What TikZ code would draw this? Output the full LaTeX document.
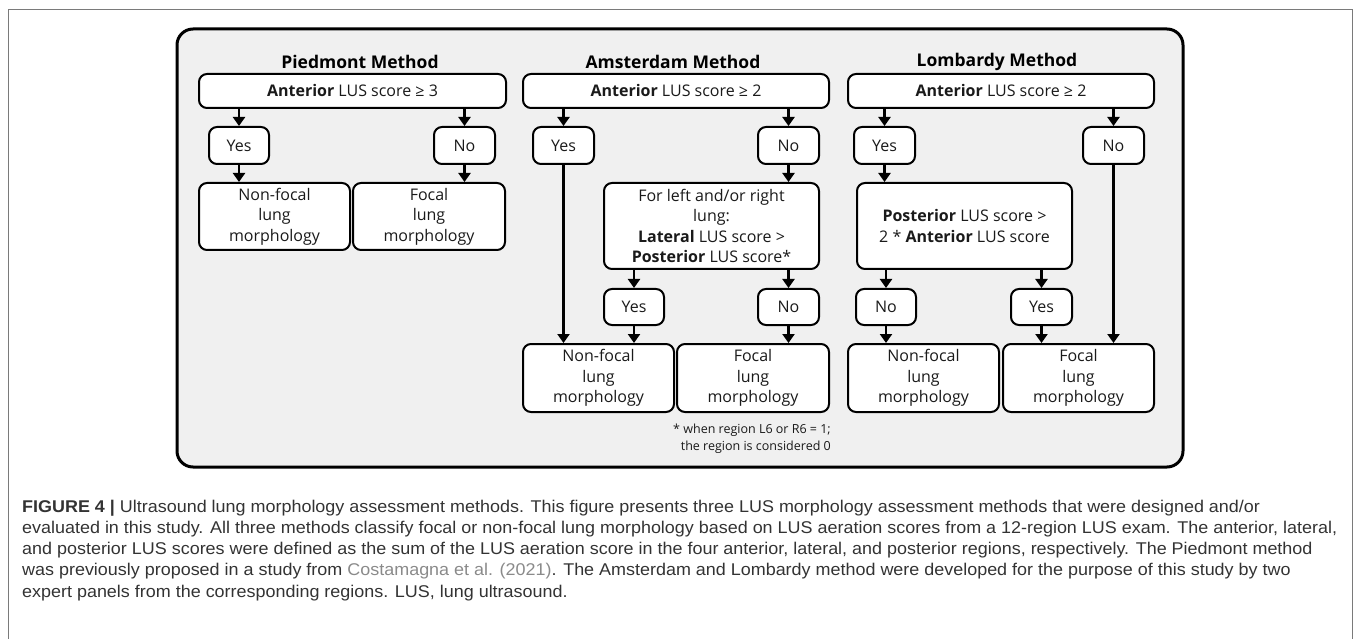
\documentclass[tikz,border=0pt]{standalone}
\usepackage{fontspec}
\usepackage{graphicx}
\setmainfont{Open Sans}
\newfontfamily\capfont[FakeStretch=0.85]{Liberation Sans}
\usetikzlibrary{arrows.meta,calc}
\definecolor{panelgray}{HTML}{F0F0F0}
\definecolor{captext}{HTML}{333333}
\definecolor{linkgray}{HTML}{8A8A8A}
\definecolor{framegray}{HTML}{7A7A7A}
\definecolor{ink}{HTML}{1A1A1A}
\newsavebox\capmeasure
\begin{document}
\sbox\capmeasure{\capfont\fontsize{17}{21}\selectfont evaluated in this study. All three methods classify focal or non-focal lung morphology based on LUS aeration scores from a 12-region LUS exam. The anterior, lateral,}%
\pgfmathsetmacro\capscale{1315/\the\wd\capmeasure}%
\begin{tikzpicture}[x=1pt,y=-1pt,
  box/.style={draw=black,line width=2pt,rounded corners=8pt,fill=white,inner sep=0pt,align=center,text=ink,font=\fontsize{16}{20.5}\selectfont},
  ttl/.style={font=\fontsize{17.5}{20}\selectfont\bfseries,text=black},
  arr/.style={line width=2.2pt,-{Triangle[length=9pt,width=12pt]}},
  capline/.style={anchor=base west,inner sep=0pt,text=captext,font=\capfont\fontsize{17}{21}\selectfont},
  foot/.style={anchor=base east,inner sep=0pt,text=ink,font=\fontsize{12.5}{15}\selectfont},
]
\useasboundingbox (0,0) rectangle (1358,639);
% outer frame
\draw[framegray,line width=1pt] (8,650) -- (8,10) -- (1352,10) -- (1352,650);
% panel
\draw[line width=3pt,rounded corners=16pt,fill=panelgray] (177,29) rectangle (1183,467);

% titles
\node[ttl] (tP) at (360,62) {Piedmont Method};
\node[ttl] (tA) at (673,62) {Amsterdam Method};
\node[ttl] (tL) at (997,62) {Lombardy Method};

% top boxes
\node[box,minimum width=307pt,minimum height=34pt] (pA) at (352.5,91) {\textbf{Anterior} LUS score ≥ 3};
\node[box,minimum width=306pt,minimum height=34pt] (aA) at (676,91) {\textbf{Anterior} LUS score ≥ 2};
\node[box,minimum width=306pt,minimum height=34pt] (lA) at (1001,91) {\textbf{Anterior} LUS score ≥ 2};

% yes/no row 1
\node[box,minimum width=60pt,minimum height=37pt] (pY) at (239,145.5) {Yes};
\node[box,minimum width=61pt,minimum height=37pt] (pN) at (464.5,145.5) {No};
\node[box,minimum width=61pt,minimum height=37pt] (aY) at (563.5,145.5) {Yes};
\node[box,minimum width=61pt,minimum height=37pt] (aN) at (788.5,145.5) {No};
\node[box,minimum width=61pt,minimum height=37pt] (lY) at (884.5,145.5) {Yes};
\node[box,minimum width=61pt,minimum height=37pt] (lN) at (1113.5,145.5) {No};

% piedmont results
\node[box,minimum width=151pt,minimum height=67pt] (pR1) at (274.5,216.5) {Non-focal\\lung\\morphology};
\node[box,minimum width=152pt,minimum height=67pt] (pR2) at (429,216.5) {Focal\\lung\\morphology};

% condition boxes
\node[box,minimum width=215pt,minimum height=86pt] (aC) at (711.5,226) {For left and/or right\\lung:\\\textbf{Lateral} LUS score >\\\textbf{Posterior} LUS score*};
\node[box,minimum width=215pt,minimum height=86pt] (lC) at (964.5,226) {\textbf{Posterior} LUS score >\\2 * \textbf{Anterior} LUS score};

% yes/no row 2
\node[box,minimum width=60pt,minimum height=36pt] (aY2) at (634,307) {Yes};
\node[box,minimum width=61pt,minimum height=36pt] (aN2) at (788.5,307) {No};
\node[box,minimum width=60pt,minimum height=36pt] (lN2) at (886,307) {No};
\node[box,minimum width=61pt,minimum height=36pt] (lY2) at (1041.5,307) {Yes};

% bottom results
\node[box,minimum width=151pt,minimum height=68pt] (aR1) at (598.5,378) {Non-focal\\lung\\morphology};
\node[box,minimum width=152pt,minimum height=68pt] (aR2) at (753,378) {Focal\\lung\\morphology};
\node[box,minimum width=151pt,minimum height=68pt] (lR1) at (923.5,378) {Non-focal\\lung\\morphology};
\node[box,minimum width=151pt,minimum height=68pt] (lR2) at (1078.5,378) {Focal\\lung\\morphology};

% footnote
\node[foot] (fn1) at (831,433) {* when region L6 or R6 = 1;};
\node[foot] (fn2) at (831,450) {the region is considered 0};

% arrows: top boxes -> yes/no
\foreach \t/\b in {pA/pY,pA/pN,aA/aY,aA/aN,lA/lY,lA/lN}
  \draw[arr] (\b.north |- \t.south) -- (\b.north);
% piedmont
\draw[arr] (pY.south) -- (pY.south |- pR1.north);
\draw[arr] (pN.south) -- (pN.south |- pR2.north);
% amsterdam
\draw[arr] (aY.south) -- (aY.south |- aR1.north);
\draw[arr] (aN.south) -- (aN.south |- aC.north);
\draw[arr] (aY2.north |- aC.south) -- (aY2.north);
\draw[arr] (aN2.north |- aC.south) -- (aN2.north);
\draw[arr] (aY2.south) -- (aY2.south |- aR1.north);
\draw[arr] (aN2.south) -- (aN2.south |- aR2.north);
% lombardy
\draw[arr] (lY.south) -- (lY.south |- lC.north);
\draw[arr] (lN.south) -- (lN.south |- lR2.north);
\draw[arr] (lN2.north |- lC.south) -- (lN2.north);
\draw[arr] (lY2.north |- lC.south) -- (lY2.north);
\draw[arr] (lN2.south) -- (lN2.south |- lR1.north);
\draw[arr] (lY2.south) -- (lY2.south |- lR2.north);

% caption
\node[capline] (c1) at (22,512) {\scalebox{\capscale}[1]{\textbf{FIGURE 4 |} Ultrasound lung morphology assessment methods. This figure presents three LUS morphology assessment methods that were designed and/or}};
\node[capline] (c2) at (22,533) {\scalebox{\capscale}[1]{evaluated in this study. All three methods classify focal or non-focal lung morphology based on LUS aeration scores from a 12-region LUS exam. The anterior, lateral,}};
\node[capline] (c3) at (22,554) {\scalebox{\capscale}[1]{and posterior LUS scores were defined as the sum of the LUS aeration score in the four anterior, lateral, and posterior regions, respectively. The Piedmont method}};
\node[capline] (c4) at (22,575.5) {\scalebox{\capscale}[1]{was previously proposed in a study from {\color{linkgray}Costamagna et al. (2021)}. The Amsterdam and Lombardy method were developed for the purpose of this study by two}};
\node[capline] (c5) at (22,597) {\scalebox{\capscale}[1]{expert panels from the corresponding regions. LUS, lung ultrasound.}};
\end{tikzpicture}
\end{document}
